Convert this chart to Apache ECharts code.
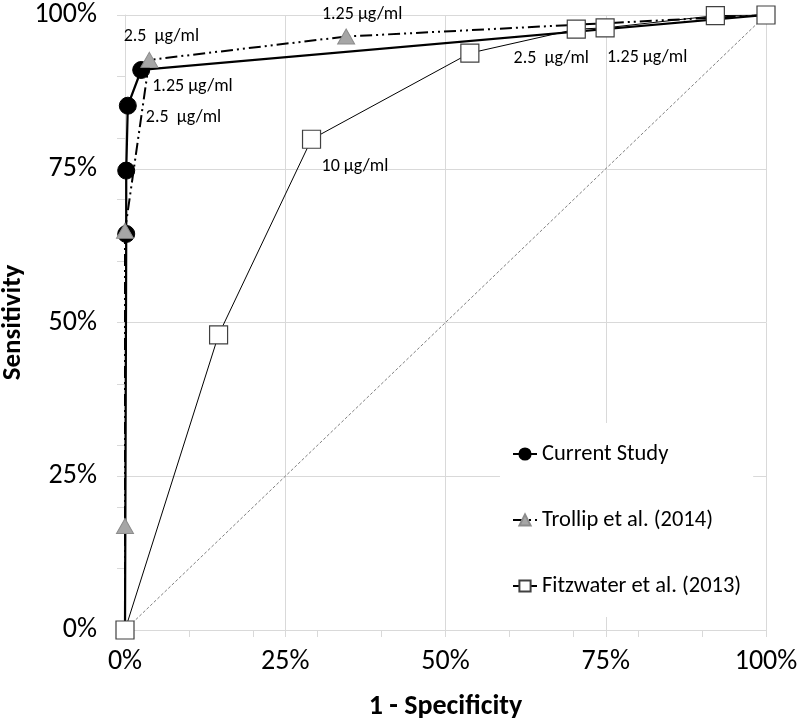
<!DOCTYPE html>
<html>
<head>
<meta charset="utf-8">
<script src="https://cdn.jsdelivr.net/npm/echarts@6/dist/echarts.min.js"></script>
<style>
html,body{margin:0;padding:0;background:#fff;}
#chart{width:800px;height:723px;}
</style>
</head>
<body>
<div id="chart"></div>
<script>
// ---- data (percent) ----
const seriesNames = ["Current Study", "Trollip et al. (2014)", "Fitzwater et al. (2013)"];
const tickLabels = ["0%", "25%", "50%", "75%", "100%"];

const currentX = [0, 0.19, 0.19, 0.44, 2.53, 100];
const currentY = [0, 64.4, 74.7, 85.25, 91.06, 100];
const currentLabels = ["", "", "", "2.5  µg/ml", "1.25 µg/ml", ""];

const trollipX = [0, 0, 0, 3.8, 34.5, 100];
const trollipY = [0, 16.9, 64.9, 92.7, 96.5, 100];
const trollipLabels = ["", "", "", "2.5  µg/ml", "1.25 µg/ml", ""];

const fitzX = [0, 14.6, 29.1, 53.8, 70.4, 74.9, 92.1, 100];
const fitzY = [0, 48.0, 79.8, 93.8, 97.7, 97.9, 99.9, 100];
const fitzLabels = ["", "", "10 µg/ml", "", "2.5  µg/ml", "1.25 µg/ml", "", ""];

const refX = [0, 100];
const refY = [0, 100];

// ---- layout / styles ----
const FONT = "Carlito, 'Liberation Sans', Arial, sans-serif";
const labelOffsets = {
  "Current Study": {3: {align: "left", offset: [18, 12]}, 4: {align: "left", offset: [11, 17]}},
  "Trollip et al. (2014)": {3: {align: "center", offset: [12, -23]}, 4: {align: "center", offset: [16, -22]}},
  "Fitzwater et al. (2013)": {2: {align: "left", offset: [10, 27]}, 4: {align: "center", offset: [-25, 29]}, 5: {align: "center", offset: [42, 30]}}
};

function build(name, xs, ys, labels) {
  return xs.map((x, i) => {
    const item = {value: [x, ys[i]]};
    if (labels && labels[i]) {
      const p = (labelOffsets[name] || {})[i] || {align: "left", offset: [10, 10]};
      item.label = {
        show: true, formatter: labels[i], position: "inside",
        align: p.align, verticalAlign: "middle", offset: p.offset,
        color: "#000", fontSize: 18, fontFamily: FONT
      };
    }
    return item;
  });
}

const chart = echarts.init(document.getElementById("chart"), null, {renderer: "canvas"});
const grid = {left: 125, right: 34, top: 15, bottom: 93, containLabel: false, outerBoundsMode: "none"};

const option = {
  backgroundColor: "#fff",
  animation: false,
  grid: grid,
  legend: {
    orient: "vertical", left: 500, top: 423,
    backgroundColor: "#fff",
    padding: [18, 12, 18, 12],
    itemGap: 40, itemWidth: 24, itemHeight: 14,
    data: seriesNames,
    textStyle: {fontSize: 22.5, fontFamily: FONT, color: "#000", lineHeight: 26}
  },
  xAxis: [{
    type: "value", min: 0, max: 100, interval: 25,
    name: "1 - Specificity", nameLocation: "middle", nameGap: 63, nameMoveOverlap: false,
    nameTextStyle: {fontSize: 28, fontWeight: "bold", fontFamily: FONT, color: "#000"},
    axisLine: {show: true, lineStyle: {color: "#d9d9d9", width: 1}},
    axisTick: {show: true, length: 7, lineStyle: {color: "#d9d9d9"}},
    axisLabel: {margin: 18, fontSize: 28, fontFamily: FONT, color: "#000",
      formatter: v => tickLabels[Math.round(v / 25)]},
    splitLine: {show: true, lineStyle: {color: "#d9d9d9", width: 1}}
  }, {
    type: "value", min: 0, max: 100, interval: 10, position: "bottom",
    axisLine: {show: false}, axisLabel: {show: false}, splitLine: {show: false},
    axisTick: {show: true, length: 7, lineStyle: {color: "#d9d9d9"}}
  }],
  yAxis: [{
    type: "value", min: 0, max: 100, interval: 25,
    name: "Sensitivity", nameLocation: "middle", nameGap: 98, nameRotate: 90, nameMoveOverlap: false,
    nameTextStyle: {fontSize: 27, fontWeight: "bold", fontFamily: FONT, color: "#000"},
    axisLine: {show: true, lineStyle: {color: "#d9d9d9", width: 1}},
    axisTick: {show: true, length: 8, lineStyle: {color: "#d9d9d9"}},
    axisLabel: {margin: 28, fontSize: 28, fontFamily: FONT, color: "#000",
      formatter: v => tickLabels[Math.round(v / 25)]},
    splitLine: {show: true, lineStyle: {color: "#d9d9d9", width: 1}}
  }, {
    type: "value", min: 0, max: 100, interval: 10, position: "left",
    axisLine: {show: false}, axisLabel: {show: false}, splitLine: {show: false},
    axisTick: {show: true, length: 8, lineStyle: {color: "#d9d9d9"}}
  }],
  series: [
    {
      name: "ref", type: "line", silent: true, symbol: "none",
      data: refX.map((x, i) => [x, refY[i]]),
      lineStyle: {color: "#7f7f7f", width: 1, type: [3, 2]}, z: 1
    },
    {
      name: seriesNames[0], type: "line", symbol: "circle", symbolSize: 17,
      data: build(seriesNames[0], currentX, currentY, currentLabels),
      lineStyle: {color: "#000", width: 2.25},
      itemStyle: {color: "#000", borderColor: "#000", borderWidth: 1}, z: 2
    },
    {
      name: seriesNames[1], type: "line", symbol: "triangle", symbolSize: [17, 15],
      data: build(seriesNames[1], trollipX, trollipY, trollipLabels),
      lineStyle: {color: "#000", width: 2, type: [12, 4, 2, 4, 2, 4]},
      itemStyle: {color: "#a6a6a6", borderColor: "#8c8c8c", borderWidth: 1}, z: 3
    },
    {
      name: seriesNames[2], type: "line", symbol: "rect", symbolSize: 18,
      data: build(seriesNames[2], fitzX, fitzY, fitzLabels),
      lineStyle: {color: "#000", width: 1},
      itemStyle: {color: "#fff", borderColor: "#404040", borderWidth: 1.2}, z: 4
    }
  ]
};
chart.setOption(option);
</script>
</body>
</html>
